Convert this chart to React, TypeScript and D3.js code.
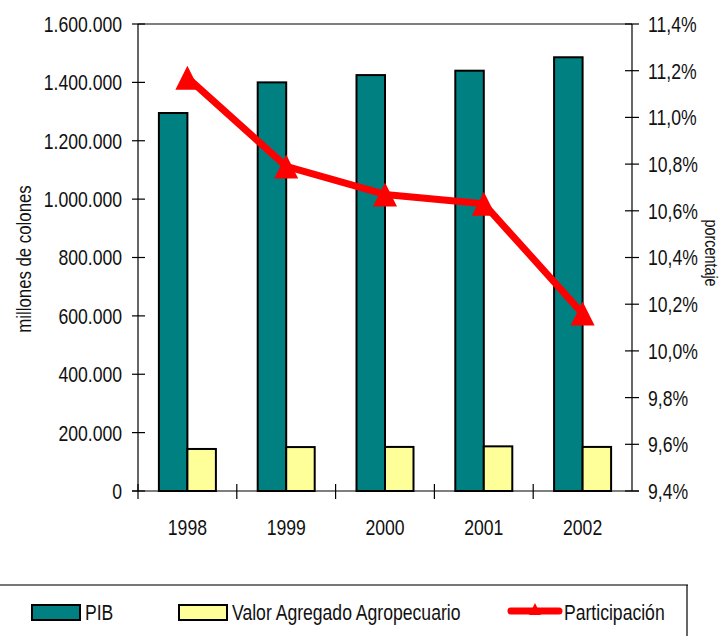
import React from 'react';
import * as d3 from 'd3';

const years = ['1998', '1999', '2000', '2001', '2002'];
const pib = [1295000, 1400000, 1425000, 1440000, 1486000];
const valorAgregado = [144000, 150500, 151000, 153000, 151000];
const participacion = [11.17, 10.79, 10.67, 10.63, 10.16];
const leftTicks = [0, 200000, 400000, 600000, 800000, 1000000, 1200000, 1400000, 1600000];
const rightTicks = [9.4, 9.6, 9.8, 10.0, 10.2, 10.4, 10.6, 10.8, 11.0, 11.2, 11.4];

const FONT = '"Liberation Sans", Arial, sans-serif';
const SX = 0.8;

const locale = d3.formatLocale({ decimal: ',', thousands: '.', grouping: [3], currency: ['', ''] });
const fmtL = locale.format(',d');
const fmtR = (v: number) => locale.format('.1f')(v) + '%';

type NProps = { x: number; y: number; rot?: number; anchor?: string; size?: number; dy?: string; children: React.ReactNode };
function NText({ x, y, rot = 0, anchor = 'start', size = 22, dy = '0.36em', children }: NProps) {
  return (
    <text
      transform={`translate(${x},${y}) rotate(${rot}) scale(${SX},1)`}
      dy={dy}
      textAnchor={anchor}
      fontSize={size}
      fill="#111"
    >
      {children}
    </text>
  );
}

export default function App() {
  const L = 138, R = 632, T = 24, B = 491;
  const x = d3.scaleBand<string>().domain(years).range([L, R]).padding(0);
  const yL = d3.scaleLinear().domain([0, 1600000]).range([B, T]);
  const yR = d3.scaleLinear().domain([9.4, 11.4]).range([B, T]);
  const bw = 28.5;
  const cx = (i: number) => (x(years[i]) as number) + x.bandwidth() / 2;
  const line = d3.line<number>()
    .x((_, i) => cx(i))
    .y((d) => yR(d));
  const tri = (s: number) => `M0,${-s} L${s},${s} L${-s},${s} Z`;

  return (
    <svg width={723} height={636} style={{ position: 'absolute', left: 0, top: 0, background: '#fff' }} fontFamily={FONT}>
      {/* bars */}
      {years.map((yr, i) => (
        <g key={yr}>
          <rect x={cx(i) - bw} y={yL(pib[i])} width={bw} height={B - yL(pib[i])} fill="#008080" stroke="#000" strokeWidth={2} />
          <rect x={cx(i)} y={yL(valorAgregado[i])} width={bw} height={B - yL(valorAgregado[i])} fill="#FFFF99" stroke="#000" strokeWidth={2} />
        </g>
      ))}
      {/* frame: top line */}
      <line x1={L} x2={R} y1={T} y2={T} stroke="#000" strokeWidth={1.2} />
      {/* left axis */}
      <line x1={L} x2={L} y1={T} y2={B} stroke="#000" strokeWidth={1.2} />
      {leftTicks.map((t) => (
        <g key={t}>
          <line x1={L - 6} x2={L + 7} y1={yL(t)} y2={yL(t)} stroke="#000" strokeWidth={1.2} />
          <NText x={122} y={yL(t)} anchor="end">{fmtL(t)}</NText>
        </g>
      ))}
      {/* right axis */}
      <line x1={R} x2={R} y1={T} y2={B} stroke="#000" strokeWidth={1.2} />
      {rightTicks.map((t) => (
        <g key={t}>
          <line x1={R - 7} x2={R + 7} y1={yR(t)} y2={yR(t)} stroke="#000" strokeWidth={1.2} />
          <NText x={648} y={yR(t)}>{fmtR(t)}</NText>
        </g>
      ))}
      {/* x axis */}
      <line x1={L - 6} x2={R + 7} y1={B} y2={B} stroke="#000" strokeWidth={1.2} />
      {years.map((yr) => (
        <line key={'t' + yr} x1={x(yr) as number} x2={x(yr) as number} y1={B - 7} y2={B + 8} stroke="#000" strokeWidth={1.2} />
      ))}
      {years.map((yr, i) => (
        <NText key={'l' + yr} x={cx(i)} y={527} anchor="middle">{yr}</NText>
      ))}
      {/* line series */}
      <path d={line(participacion) as string} fill="none" stroke="#FF0000" strokeWidth={7} strokeLinejoin="round" />
      {participacion.map((v, i) => (
        <path key={'m' + i} d={tri(12)} transform={`translate(${cx(i)},${yR(v)})`} fill="#FF0000" />
      ))}
      {/* axis titles */}
      <NText x={31} y={259} rot={-90} anchor="middle" size={21} dy="0">millones de colones</NText>
      <NText x={705} y={253} rot={90} anchor="middle" size={18} dy="0">porcentaje</NText>
      {/* legend */}
      <line x1={0} x2={688} y1={585} y2={585} stroke="#777" strokeWidth={2} />
      <line x1={687} x2={687} y1={585} y2={636} stroke="#000" strokeWidth={1.2} />
      <rect x={32} y={605} width={48} height={15} fill="#008080" stroke="#000" strokeWidth={2} />
      <NText x={85} y={612.5}>PIB</NText>
      <rect x={179} y={605} width={48} height={15} fill="#FFFF99" stroke="#000" strokeWidth={2} />
      <NText x={232} y={612.5}>Valor Agregado Agropecuario</NText>
      <line x1={511} x2={559} y1={611} y2={611} stroke="#FF0000" strokeWidth={7} strokeLinecap="round" />
      <path d={tri(6)} transform="translate(535,609)" fill="#FF0000" />
      <NText x={564} y={612.5}>Participación</NText>
    </svg>
  );
}
